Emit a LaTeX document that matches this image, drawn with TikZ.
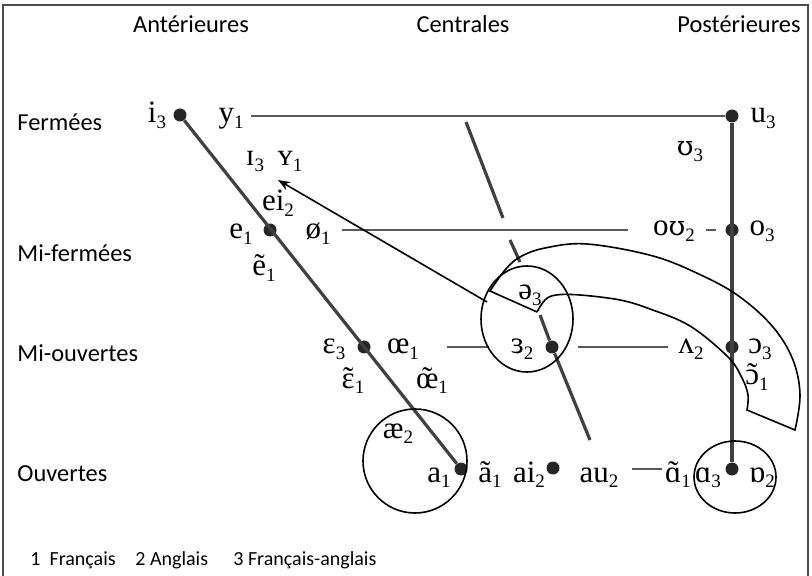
\documentclass[tikz,border=0pt]{standalone}
\usepackage{fontspec}
\setmainfont{Carlito}
\newfontfamily\ipafont{Liberation Serif}
\newfontfamily\ipaalt{DejaVu Serif}
\usetikzlibrary{arrows.meta}

\newcommand{\vw}[2]{#1\raisebox{-2.8pt}{\fontsize{9.5}{10}\selectfont #2}}
\newcommand{\nas}[1]{\ooalign{#1\cr\hidewidth\char"02DC\hidewidth\cr}}
\newcommand{\upsl}{{\ipaalt\fontsize{13.5}{15}\selectfont ʊ}}

\tikzset{
    dot/.style={circle, fill=black!85, inner sep=0pt, minimum size=6.5pt},
    ipa/.style={font=\ipafont\fontsize{15.5}{17}\selectfont, inner sep=0pt, anchor=base},
    lbl/.style={font=\fontsize{12.2}{14}\selectfont, inner sep=0pt},
    axisline/.style={line width=1.6pt, black!75},
    rule/.style={line width=1.1pt, black!65},
    curve/.style={line width=0.8pt, black},
}

\begin{document}
\begin{tikzpicture}[x=0.5pt, y=-0.5pt]
    \useasboundingbox (0,0) rectangle (812,576);
    \draw[line width=1pt, black!70] (3,576) -- (3,5) -- (808,5) -- (808,576);

    % headers and rows
    \node[lbl] (hant) at (191,24) {Antérieures};
    \node[lbl] (hcen) at (463,24) {Centrales};
    \node[lbl] (hpos) at (739,24) {Postérieures};
    \foreach \n/\y/\t in {rfer/122/Fermées, rmif/253/Mi-fermées, rmio/353/Mi-ouvertes, rouv/474/Ouvertes} {
        \node[lbl, anchor=west] (\n) at (17,\y) {\t};
    }
    \foreach \n/\x/\t in {leg1/30/{1\ \ Français}, leg2/135/{2 Anglais}, leg3/233/{3 Français-anglais}} {
        \node[lbl, anchor=west, font=\fontsize{10}{12}\selectfont] (\n) at (\x,560) {\t};
    }

    % dots
    \foreach \n/\x/\y in {di/180/115, du/732/116, de/270/230, do/732/230, dep/364/347,
                          der/552/347, doo/732/347, da/461/469, dai/553/468, dq/732/469} {
        \node[dot] (\n) at (\x,\y) {};
    }

    \draw[axisline] (di) -- (da);
    \draw[axisline] (du) -- (dq);

    % horizontal rules
    \coordinate (f0) at (251,116);
    \coordinate (mf0) at (342,230);
    \coordinate (mf1) at (628,230);
    \coordinate (ds0) at (706,230);
    \coordinate (ds1) at (716,230);
    \coordinate (mo0) at (447,347);
    \coordinate (mo1) at (489,347);
    \coordinate (mo2) at (578,347);
    \coordinate (mo3) at (668,347);
    \coordinate (ov0) at (632,469);
    \coordinate (ov1) at (662,469);
    \draw[rule] (f0) -- (du);
    \draw[rule] (mf0) -- (mf1);
    \draw[rule] (ds0) -- (ds1);
    \draw[rule] (mo0) -- (mo1);
    \draw[rule] (mo2) -- (mo3);
    \draw[rule] (ov0) -- (ov1);

    % central line, broken
    \coordinate (c0) at (466,122);
    \coordinate (c1) at (503,218);
    \coordinate (c2) at (510,240);
    \coordinate (c3) at (520,262);
    \coordinate (c4) at (540,315);
    \coordinate (c5) at (590,440);
    \draw[axisline] (c0) -- (c1);
    \draw[axisline] (c2) -- (c3);
    \draw[axisline] (c4) -- (der) -- (c5);

    % circles
    \draw[curve] (527,319) ellipse [x radius=46, y radius=53];
    \draw[curve] (415,461) circle [radius=52];
    \draw[curve] (735,477) ellipse [x radius=41, y radius=36];

    % band
    \draw[curve] (537,312) -- (490,291)
        -- plot[smooth, tension=0.6] coordinates {(490,291) (505,270) (520,257) (545,248) (587,244)
            (653,256) (703,276) (740,297) (773,327) (793,360) (800,395) (795,430)}
        -- (747,410)
        -- plot[smooth, tension=0.6] coordinates {(747,410) (748,395) (742,378) (728,357) (690,326)
            (650,309) (620,300) (580,295) (556,295) (545,300) (537,312)};

    % arrow
    \coordinate (atail) at (487,302);
    \coordinate (ahead) at (278,180);
    \draw[curve, -{Stealth[length=6pt, width=4.5pt]}] (atail) -- (ahead);

    % vowels
    \foreach \n/\x/\y/\t in {
        vi/157/123/{\vw{i}{3}}, vy/231/123/{\vw{y}{1}}, vu/763/123/{\vw{u}{3}},
        vuu/690/156/{\vw{\upsl}{3}}, vii/255/166/{\vw{ɪ}{3}}, vyy/290/166/{\vw{ʏ}{1}},
        vei/278/211/{\vw{ei}{2}}, ve/241/239/{\vw{e}{1}}, voe/318/239/{\vw{ø}{1}},
        vou/674/236/{\vw{o\upsl}{2}}, vo/762/236/{\vw{o}{3}}, ven/264/276/{\vw{ẽ}{1}},
        vschwa/530/300/{\vw{ə}{3}}, veps/334/354/{\vw{ɛ}{3}}, voel/403/354/{\vw{œ}{1}},
        ver/522/354/{\vw{ɜ}{2}}, vlam/691/354/{\vw{ʌ}{2}}, vopen/760/354/{\vw{ɔ}{3}},
        vepsn/353/388/{\vw{\nas{ɛ}}{1}}, voen/432/388/{\vw{\nas{œ}}{1}}, vopn/757/385/{\vw{\nas{ɔ}}{1}},
        vae/398/438/{\vw{æ}{2}}, va/439/482/{\vw{a}{1}}, van/490/482/{\vw{ã}{1}},
        vai/529/482/{\vw{ai}{2}}, vau/599/482/{\vw{au}{2}}, vqn/678/482/{\vw{\nas{ɑ}}{1}},
        vq/708/482/{\vw{ɑ}{3}}, vqr/762/482/{\vw{ɒ}{2}}} {
        \node[ipa] (\n) at (\x,\y) {\t};
    }
\end{tikzpicture}
\end{document}
